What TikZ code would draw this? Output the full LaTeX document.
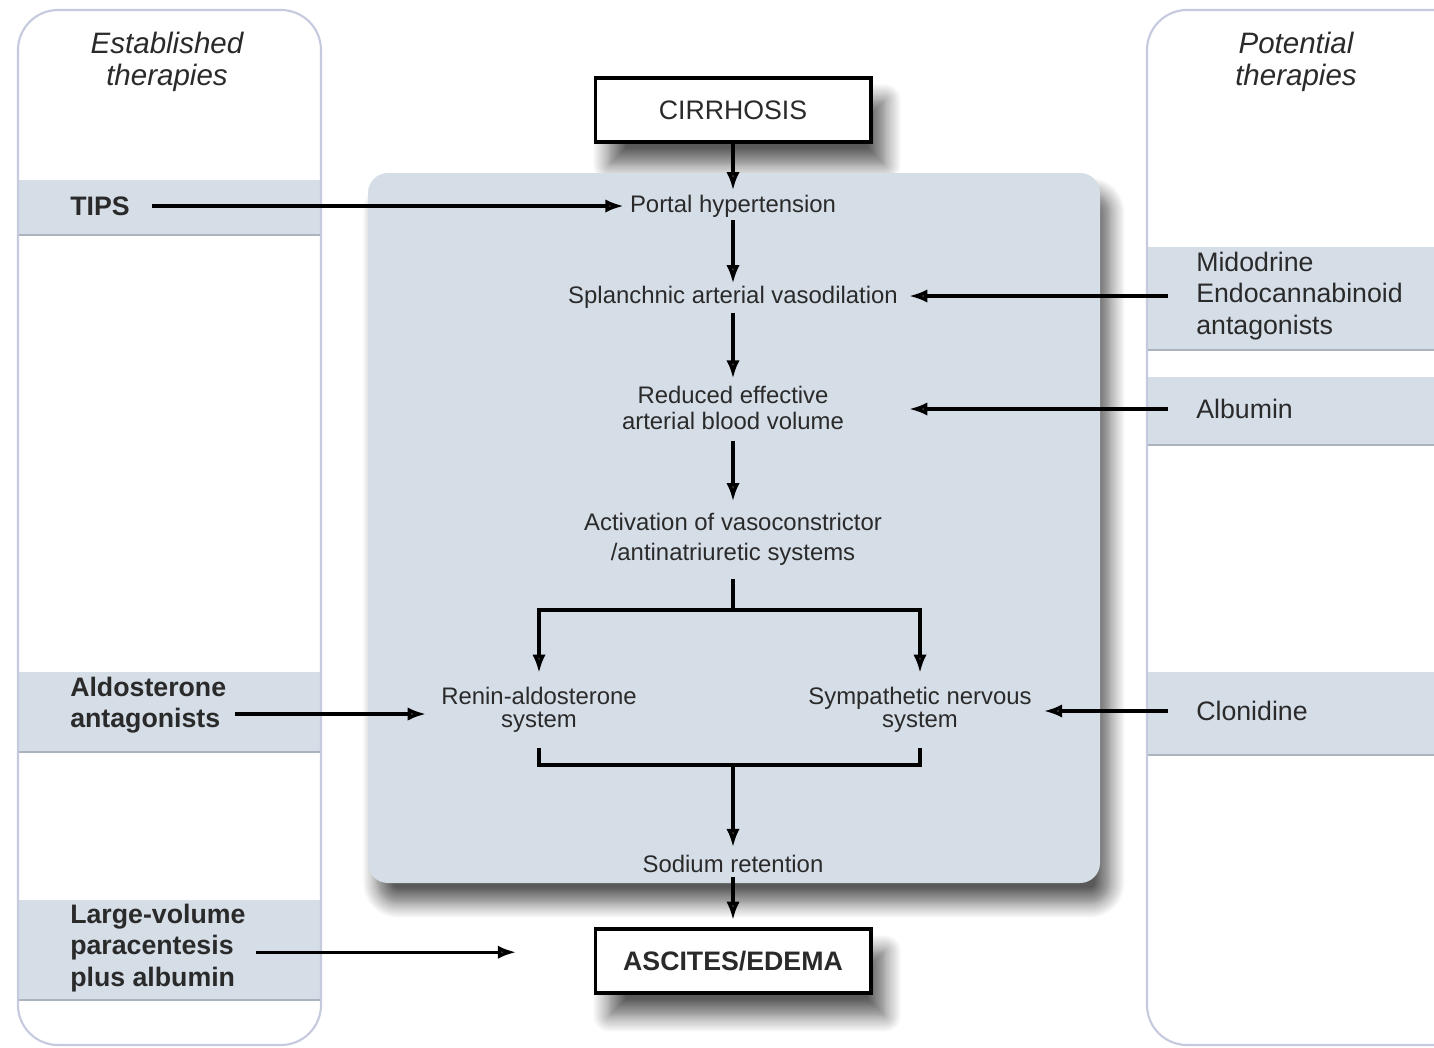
\documentclass[tikz,border=0pt]{standalone}
\usepackage{fontspec}
\setmainfont{Liberation Sans}
\usetikzlibrary{arrows.meta,calc,shadows.blur}

\definecolor{bandblue}{HTML}{D5DDE7}
\definecolor{panelline}{HTML}{C6CADF}
\definecolor{bandshade}{HTML}{AAB3BE}
\definecolor{inktext}{HTML}{2A2A2A}

\begin{document}
\begin{tikzpicture}[x=0.025cm, y=-0.025cm,
    >={Latex[length=13pt,width=9.5pt]},
    arr/.style = {line width=2.4pt, ->},
    plain/.style = {line width=2.4pt},
    body/.style = {
      inner sep = 0pt,
      align = center,
      text = inktext,
      font = \fontsize{17}{18}\selectfont
    },
    lefttxt/.style = {
      inner sep = 0pt,
      align = left,
      anchor = west,
      text = inktext,
      font = \bfseries\fontsize{19}{22.5}\selectfont
    },
    righttxt/.style = {
      inner sep = 0pt,
      align = left,
      anchor = west,
      text = inktext,
      font = \fontsize{19}{22.5}\selectfont
    },
    heading/.style = {
      inner sep = 0pt,
      align = center,
      text = inktext,
      font = \itshape\fontsize{21}{23}\selectfont
    },
    endbox/.style = {
      draw = black,
      line width = 2.8pt,
      fill = white,
      minimum width = 6.875cm,
      minimum height = 1.6cm,
      text = inktext,
      font = \fontsize{19}{22}\selectfont,
      blur shadow = {shadow xshift=10pt, shadow yshift=-16pt,
                     shadow blur radius=12pt, shadow blur steps=14,
                     shadow opacity=65}
    },
    panel/.style = {draw=panelline, line width=1.5pt, rounded corners=1cm},
    band/.style = {fill=bandblue}
  ]
  \useasboundingbox (0,0) rectangle (1434,1047);
  \clip (0,0) rectangle (1434,1047);

  % side panels
  \fill[white, rounded corners=1cm] (18,10) rectangle (321,1045);
  \fill[white, rounded corners=1cm] (1147,10) rectangle (1490,1045);

  \foreach \ya/\yb in {180/235, 672/752, 900/1000} {
    \fill[band] (18,\ya) rectangle (321,\yb);
    \draw[bandshade, line width=1.6pt] (18,\yb) -- (321,\yb);
  }
  \foreach \ya/\yb in {247/350, 377/445, 672/755} {
    \fill[band] (1147,\ya) rectangle (1490,\yb);
    \draw[bandshade, line width=1.6pt] (1147,\yb) -- (1490,\yb);
  }
  \draw[panel] (18,10) rectangle (321,1045);
  \draw[panel] (1147,10) rectangle (1490,1045);

  \node[endbox] (cirr) at (733,110) {CIRRHOSIS};

  % central box
  \fill[bandblue, rounded corners=0.5cm,
        blur shadow={shadow xshift=7pt, shadow yshift=-14pt,
                     shadow blur radius=11pt, shadow blur steps=14,
                     shadow opacity=65}]
    (368,173) rectangle (1100,883);

  \node[heading] (estab) at (167,62) {Established\\therapies};
  \node[heading] (poten) at (1296,62) {Potential\\therapies};

  \node[endbox, font=\bfseries\fontsize{19}{22}\selectfont] (ascites) at (733,961) {ASCITES/EDEMA};

  \node[body] (portal)  at (733,206) {Portal hypertension};
  \node[body] (splan)   at (733,297) {Splanchnic arterial vasodilation};
  \node[body] (reduced) at (733,408) {Reduced effective\\arterial blood volume};
  \node[body, font=\fontsize{17}{21.3}\selectfont] (activ) at (733,539)
    {Activation of vasoconstrictor\\/antinatriuretic systems};
  \node[body, font=\fontsize{17}{16.5}\selectfont] (renin) at (539,710) {Renin-aldosterone\\system};
  \node[body, font=\fontsize{17}{16.5}\selectfont] (sympa) at (920,710) {Sympathetic nervous\\system};
  \node[body] (sodium)  at (733,864) {Sodium retention};

  \node[lefttxt] (tips)  at (70,206) {TIPS};
  \node[lefttxt] (aldo)  at (70,705) {Aldosterone\\antagonists};
  \node[lefttxt] (large) at (70,948) {Large-volume\\paracentesis\\plus albumin};

  \node[righttxt] (mido)   at (1196,296) {Midodrine\\Endocannabinoid\\antagonists};
  \node[righttxt] (albu)   at (1196,409) {Albumin};
  \node[righttxt] (cloni)  at (1196,711) {Clonidine};

  \coordinate (split) at (733,610);
  \coordinate (joinpt) at (733,765);

  % main chain
  \draw[arr, shorten >=3pt] (cirr) -- (portal);
  \draw[arr, shorten <=2pt, shorten >=1.5pt] (portal) -- (splan);
  \draw[arr, shorten <=3.5pt, shorten >=5.5pt] (splan) -- (reduced);
  \draw[arr, shorten <=8pt, shorten >=8pt] (reduced) -- (activ);
  \draw[plain, shorten <=10pt] (activ) -- (split);
  \draw[arr, shorten >=10pt] (split) -| (renin);
  \draw[arr, shorten >=10pt] (split) -| (sympa);
  \draw[plain] ($(renin.south)+(0,15)$) |- (joinpt) -| ($(sympa.south)+(0,15)$);
  \draw[arr, shorten >=5.5pt] (joinpt) -- (sodium);
  \draw[arr, shorten <=3pt, shorten >=5pt] (sodium) -- (ascites);

  % therapies
  \draw[arr, shorten <=15.6pt, shorten >=4.3pt] (tips.east) -- (tips.east -| portal.west);
  \draw[arr, shorten <=6.4pt, shorten >=10.7pt]
    ([yshift=-6.4pt]aldo.east) -- ([yshift=-6.4pt]aldo.east -| renin.west);
  \draw[arr, shorten <=7pt, shorten >=55pt]
    ([yshift=-3pt]large.east) -- ([yshift=-3pt]large.east -| ascites.west);
  \draw[arr, shorten <=20pt, shorten >=7.8pt] (mido.west) -- (mido.west -| splan.east);
  \draw[arr, shorten <=20pt, shorten >=7.8pt] (albu.west) -- (albu.west -| splan.east);
  \draw[arr, shorten <=20pt, shorten >=8.5pt] (cloni.west) -- (cloni.west -| sympa.east);
\end{tikzpicture}
\end{document}
